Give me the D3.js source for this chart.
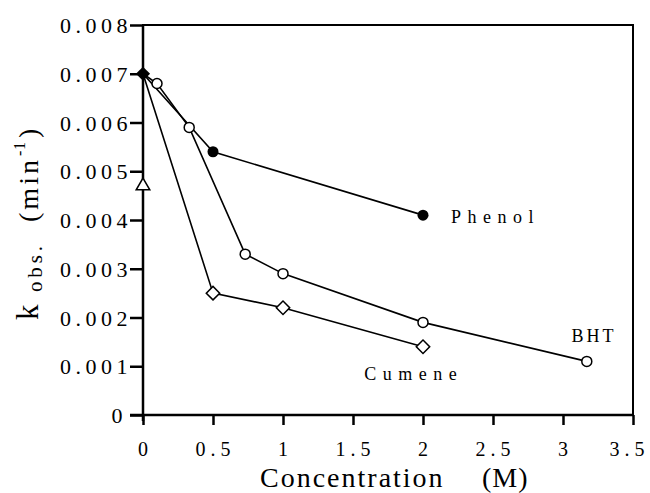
<!DOCTYPE html>
<html>
<head>
<meta charset="utf-8">
<script src="https://cdn.jsdelivr.net/npm/d3@7"></script>
<style>
  body { margin: 0; background: #fff; }
  svg { display: block; }
  text { font-family: "Liberation Serif", "Times New Roman", serif; fill: #000; }
</style>
</head>
<body>
<div id="chart"></div>
<script>
// data
const phenolX = [0, 0.5, 2];
const phenolY = [0.007, 0.0054, 0.0041];
const bhtX = [0, 0.1, 0.33, 0.73, 1, 2, 3.17];
const bhtY = [0.007, 0.0068, 0.0059, 0.0033, 0.0029, 0.0019, 0.0011];
const cumeneX = [0, 0.5, 1, 2];
const cumeneY = [0.007, 0.0025, 0.0022, 0.0014];
const blankX = [0];
const blankY = [0.0047];
const xTicks = [0, 0.5, 1, 1.5, 2, 2.5, 3, 3.5];
const yTicks = [0, 0.001, 0.002, 0.003, 0.004, 0.005, 0.006, 0.007, 0.008];

const width = 650;
const height = 493;
const margin = { top: 25, right: 17, bottom: 78, left: 143 };

const svg = d3.select('#chart')
  .append('svg')
  .attr('width', width)
  .attr('height', height);

const x = d3.scaleLinear().domain([0, 3.5]).range([margin.left, width - margin.right]);
const y = d3.scaleLinear().domain([0, 0.008]).range([height - margin.bottom, margin.top]);

const pts = (xs, ys) => xs.map((v, i) => [v, ys[i]]);
const line = d3.line().x(d => x(d[0])).y(d => y(d[1]));

// frame
svg.append('rect')
  .attr('x', x(0)).attr('y', y(0.008))
  .attr('width', x(3.5) - x(0)).attr('height', y(0) - y(0.008))
  .attr('fill', 'none').attr('stroke', '#000').attr('stroke-width', 2);

// axes
const xAxis = d3.axisBottom(x).tickValues(xTicks).tickSize(10)
  .tickFormat(d => d === 0 ? '0' : d3.format('.1f')(d).replace(/\.0$/, ''));
const gx = svg.append('g').attr('transform', `translate(0,${y(0)})`).call(xAxis);
gx.select('.domain').attr('d', `M${x(0) - 13},0H${x(3.5)}`).attr('stroke-width', 2.5);
gx.selectAll('.tick line').attr('stroke-width', 2.5);
gx.selectAll('.tick text')
  .attr('y', 27)
  .attr('dx', d => d === 3.5 ? -4 : 2)
  .style('font-size', '20px')
  .style('letter-spacing', '5px');

const yAxis = d3.axisLeft(y).tickValues(yTicks).tickSize(13)
  .tickFormat(d => d === 0 ? '0' : d3.format('.3f')(d));
const gy = svg.append('g').attr('transform', `translate(${x(0)},0)`).call(yAxis);
gy.select('.domain').attr('d', `M0,${y(0.008)}V${y(0) + 6}`).attr('stroke-width', 2.5);
gy.selectAll('.tick line').attr('stroke-width', 2.5);
gy.selectAll('.tick text')
  .attr('x', -11)
  .attr('dy', '0.35em')
  .style('font-size', '22px')
  .style('letter-spacing', '4.5px');
gy.selectAll('.tick text').filter(d => d === 0).attr('x', -16);

// series lines
[pts(phenolX, phenolY), pts(bhtX, bhtY), pts(cumeneX, cumeneY)].forEach(s => {
  svg.append('path').datum(s)
    .attr('d', line)
    .attr('fill', 'none').attr('stroke', '#000').attr('stroke-width', 1.6);
});

// markers
svg.append('g').selectAll('circle.bht')
  .data(pts(bhtX, bhtY).slice(1))
  .join('circle')
  .attr('cx', d => x(d[0])).attr('cy', d => y(d[1])).attr('r', 5)
  .attr('fill', '#fff').attr('stroke', '#000').attr('stroke-width', 1.5);

svg.append('g').selectAll('path.cumene')
  .data(pts(cumeneX, cumeneY).slice(1))
  .join('path')
  .attr('d', d3.symbol(d3.symbolSquare, 90))
  .attr('transform', d => `translate(${x(d[0])},${y(d[1])}) rotate(45)`)
  .attr('fill', '#fff').attr('stroke', '#000').attr('stroke-width', 1.5);

svg.append('g').selectAll('circle.phenol')
  .data(pts(phenolX, phenolY).slice(1))
  .join('circle')
  .attr('cx', d => x(d[0])).attr('cy', d => y(d[1])).attr('r', 5.5)
  .attr('fill', '#000');

svg.append('g').selectAll('path.blank')
  .data(pts(blankX, blankY))
  .join('path')
  .attr('d', d3.symbol(d3.symbolTriangle, 80))
  .attr('transform', d => `translate(${x(d[0])},${y(d[1])})`)
  .attr('fill', '#fff').attr('stroke', '#000').attr('stroke-width', 1.5);

// shared starting point
svg.append('path')
  .attr('d', d3.symbol(d3.symbolSquare, 100))
  .attr('transform', `translate(${x(0)},${y(0.007)}) rotate(45)`)
  .attr('fill', '#000');

// series labels
const label = (t, xv, yv, ls) => svg.append('text')
  .attr('x', x(xv)).attr('y', y(yv))
  .style('font-size', '18px').style('letter-spacing', ls + 'px')
  .text(t);
label('Phenol', 2.2, 0.00394, 6.5);
label('BHT', 3.06, 0.0015, 3);
label('Cumene', 1.58, 0.00072, 6.5);

// axis titles
svg.append('text')
  .attr('x', 260).attr('y', 487)
  .style('font-size', '28px').style('letter-spacing', '2px')
  .text('Concentration');
svg.append('text')
  .attr('x', 482).attr('y', 487)
  .style('font-size', '28px').style('letter-spacing', '1px')
  .text('(M)');

// rotated y title, pieces placed along the axis (start = lower end)
const ypiece = (t, bx, startY, size, len) => svg.append('text')
  .attr('transform', `translate(${bx},${startY}) rotate(-90)`)
  .attr('textLength', len).attr('lengthAdjust', 'spacing')
  .style('font-size', size + 'px')
  .text(t);
ypiece('k', 38, 320, 31, 16);
ypiece('obs.', 42, 292, 21, 46);
ypiece('(min', 38, 222, 28, 62);
ypiece('-1', 25, 156, 16, 14);
ypiece(')', 38, 138, 28, 10);
</script>
</body>
</html>
